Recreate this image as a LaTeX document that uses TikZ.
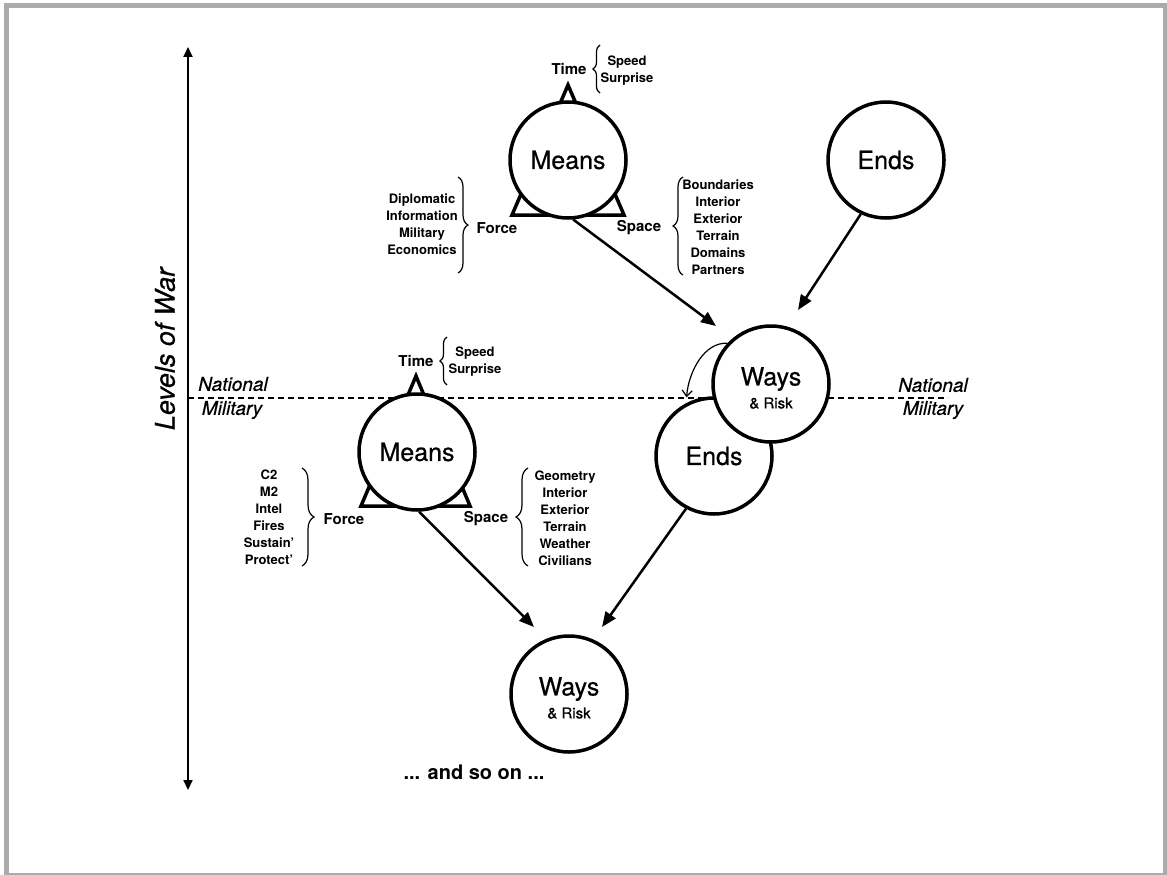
\documentclass[tikz,border=0pt]{standalone}
\usepackage{fontspec}
\setmainfont{TeX Gyre Heros}
\newfontfamily\medfont[FakeBold=0.6]{TeX Gyre Heros}
\usetikzlibrary{arrows.meta,decorations.pathreplacing}
\definecolor{framegray}{HTML}{ABABAB}
\begin{document}
\begin{tikzpicture}[x=1pt,y=-1pt,
  circ/.style={circle,draw,fill=white,line width=3.5pt,minimum size=116pt,inner sep=0pt,align=center,font=\medfont\fontsize{25}{26}\selectfont},
  ctext/.style={inner sep=0pt,align=center,font=\medfont\fontsize{25}{23}\selectfont},
  tri/.style={draw,fill=white,line width=3.5pt,line join=miter},
  lbl/.style={font=\bfseries\fontsize{15}{17}\selectfont,inner sep=0pt},
  lst/.style={font=\bfseries\fontsize{13}{17}\selectfont,align=center,inner sep=0pt},
  br/.style={decorate,decoration={brace,amplitude=#1},line width=1.2pt},
  br/.default=10pt,
  arr/.style={line width=2.5pt,-{Triangle[length=15pt,width=12pt]}},
  ital/.style={font=\medfont\itshape\fontsize{19}{20}\selectfont,inner sep=0pt}
]
\useasboundingbox (0,0) rectangle (1167,875);
% frame
\fill[framegray] (4,3) rectangle (1167,8);
\fill[framegray] (4,3) rectangle (9,875);
\fill[framegray] (1163,3) rectangle (1167,875);
\fill[framegray] (4,873) rectangle (1167,875);

% levels axis
\coordinate (vtop) at (188,47);
\coordinate (vbot) at (188,790);
\draw[line width=2pt,{Triangle[length=10pt,width=9pt]}-{Triangle[length=10pt,width=9pt]}] (vtop) -- (vbot);
\node[rotate=90,font=\medfont\itshape\fontsize{27}{28}\selectfont,inner sep=0pt] (levels) at (165,349) {Levels of War};

% national / military divide
\coordinate (dl) at (188,398);
\coordinate (dr) at (948,398);
\draw[line width=1.5pt,dash pattern=on 6pt off 4pt] (dl) -- (dr);
\node[ital] (natL) at (233,384) {National};
\node[ital] (milL) at (232,410) {Military};
\node[ital] (natR) at (933,385) {National};
\node[ital] (milR) at (933,410) {Military};

% upper means
\draw[tri] (568,85) -- (624,215) -- (512,215) -- cycle;
\node[circ] (meansA) at (568,160) {Means};
\node[circ] (endsA) at (886,160) {Ends};

\node[lbl] (timeA) at (569,69) {Time};
\node[lst] (timeAl) at (627,70.5) {Speed\\Surprise};
\draw[br=7pt] (600,93) -- (600,45);
\node[lbl] (forceA) at (497,228) {Force};
\node[lst] (forceAl) at (422,224.5) {Diplomatic\\Information\\Military\\Economics};
\draw[br] (458,177) -- (458,273);
\node[lbl] (spaceA) at (639,228) {Space};
\node[lst] (spaceAl) at (718,227) {Boundaries\\Interior\\Exterior\\Terrain\\Domains\\Partners};
\draw[br] (683,275) -- (683,177);

% middle ends / ways
\node[circ] (endsB) at (714,456) {Ends};
\node[circ] (waysA) at (771,384) {};
\node[ctext] (waysAt) at (771,388) {Ways\\{\fontsize{15}{16}\selectfont \& Risk}};

% lower means
\draw[tri] (416,376) -- (470,506) -- (361,506) -- cycle;
\node[circ] (meansB) at (417,452) {Means};

\node[lbl] (timeB) at (416,361) {Time};
\node[lst] (timeBl) at (475,362) {Speed\\Surprise};
\draw[br=7pt] (447,385) -- (447,337);
\node[lbl] (forceB) at (344,519) {Force};
\node[lst] (forceBl) at (269,517) {C2\\M2\\Intel\\Fires\\Sustain'\\Protect'};
\draw[br=12pt] (302,468) -- (302,566);
\node[lbl] (spaceB) at (486,519) {Space};
\node[lst] (spaceBl) at (565,518.5) {Geometry\\Interior\\Exterior\\Terrain\\Weather\\Civilians};
\draw[br=12pt] (528,566) -- (528,468);

% bottom ways
\node[circ] (waysB) at (569,694) {};
\node[ctext] (waysBt) at (569,698) {Ways\\{\fontsize{15}{16}\selectfont \& Risk}};
\node[font=\bfseries\fontsize{20}{22}\selectfont,inner sep=0pt] (more) at (474,772) {... and so on ...};

% connectors
\coordinate (tipA) at (716,326);
\coordinate (tipB) at (798,310);
\coordinate (tipC) at (534,627);
\coordinate (tipD) at (602,627);
\draw[arr] (meansA.-85) -- (tipA);
\draw[arr] (endsA.-115) -- (tipB);
\draw[arr] (meansB.-88) -- (tipC);
\draw[arr] (endsB.-118) -- (tipD);
\draw[line width=1.2pt,shorten >=6pt,-{Straight Barb[length=6pt,width=10pt]}] (waysA.137) .. controls (705,342) and (689,370) .. (endsB.118);
\end{tikzpicture}
\end{document}
